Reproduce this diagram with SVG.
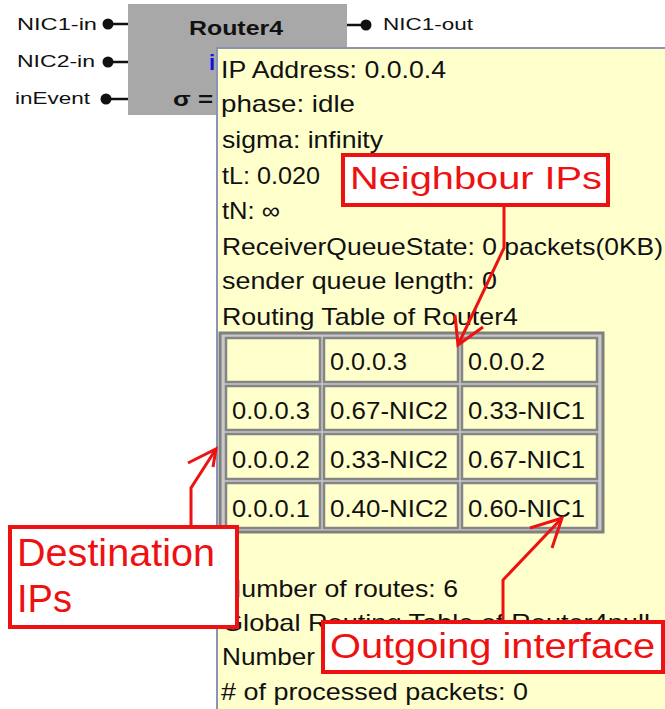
<svg xmlns="http://www.w3.org/2000/svg" width="665" height="709" viewBox="0 0 665 709">
<style>
.port{font-family:"Liberation Sans",Arial,sans-serif;font-size:16px;fill:#111}
.pt{font-family:"Liberation Sans",Arial,sans-serif;font-size:24px;fill:#111}
.cell{fill:#FFFFCC;stroke:#858585;stroke-width:2.5}
.call{fill:#fff;stroke:#EE1111;stroke-width:4}
.ct{font-family:"Liberation Sans",Arial,sans-serif;fill:#EE1111}
.arr{fill:none;stroke:#EE1111;stroke-width:3;stroke-linejoin:miter}
.wire{stroke:#111;stroke-width:2.5}
</style>
<rect x="0" y="0" width="665" height="709" fill="#fff"/>
<g id="router4">
<rect x="128" y="4" width="219" height="111" fill="#A8A8A8"/>
<text x="189" y="35" font-family="Liberation Sans,Arial,sans-serif" font-size="21" font-weight="bold" fill="#111" textLength="94" lengthAdjust="spacingAndGlyphs">Router4</text>
<text x="209" y="70" font-family="Liberation Sans,Arial,sans-serif" font-size="22" font-weight="bold" fill="#1010E0">i</text>
<text x="173" y="106" font-family="Liberation Sans,Arial,sans-serif" font-size="21" font-weight="bold" fill="#111" textLength="40" lengthAdjust="spacingAndGlyphs">σ =</text>
</g>
<g id="ports">
<g id="port-nic1-in"><text class="port" x="17" y="30" textLength="80" lengthAdjust="spacingAndGlyphs">NIC1-in</text><line class="wire" x1="108" y1="24" x2="128" y2="24"/><circle cx="108" cy="24" r="5.5" fill="#111"/></g>
<g id="port-nic2-in"><text class="port" x="17" y="67" textLength="78" lengthAdjust="spacingAndGlyphs">NIC2-in</text><line class="wire" x1="108" y1="62" x2="128" y2="62"/><circle cx="108" cy="62" r="5.5" fill="#111"/></g>
<g id="port-inevent"><text class="port" x="15" y="104" textLength="75" lengthAdjust="spacingAndGlyphs">inEvent</text><line class="wire" x1="106" y1="99" x2="128" y2="99"/><circle cx="106" cy="99" r="5.5" fill="#111"/></g>
<g id="port-nic1-out"><line class="wire" x1="347" y1="25" x2="366" y2="25"/><circle cx="366" cy="25" r="5.5" fill="#111"/><text class="port" x="383" y="30" textLength="90" lengthAdjust="spacingAndGlyphs">NIC1-out</text></g>
</g>
<g id="tooltip">
<rect x="217" y="48" width="450" height="665" fill="#FFFFCC" stroke="#8C93B8" stroke-width="2"/>
<text class="pt" x="221" y="78" textLength="225" lengthAdjust="spacingAndGlyphs">IP Address: 0.0.0.4</text>
<text class="pt" x="221" y="112" textLength="134" lengthAdjust="spacingAndGlyphs">phase: idle</text>
<text class="pt" x="222" y="148" textLength="161" lengthAdjust="spacingAndGlyphs">sigma: infinity</text>
<text class="pt" x="222" y="184" textLength="98" lengthAdjust="spacingAndGlyphs">tL: 0.020</text>
<text class="pt" x="222" y="219" textLength="58" lengthAdjust="spacingAndGlyphs">tN: ∞</text>
<text class="pt" x="222" y="255" textLength="441" lengthAdjust="spacingAndGlyphs">ReceiverQueueState: 0 packets(0KB)</text>
<text class="pt" x="222" y="289" textLength="275" lengthAdjust="spacingAndGlyphs">sender queue length: 0</text>
<text class="pt" x="222" y="325" textLength="296" lengthAdjust="spacingAndGlyphs">Routing Table of Router4</text>
<text class="pt" x="222" y="597" textLength="236" lengthAdjust="spacingAndGlyphs">Number of routes: 6</text>
<text class="pt" x="222" y="631" textLength="428" lengthAdjust="spacingAndGlyphs">Global Routing Table of Router4null</text>
<text class="pt" x="222" y="665" textLength="93" lengthAdjust="spacingAndGlyphs">Number</text>
<text class="pt" x="221" y="700" textLength="307" lengthAdjust="spacingAndGlyphs"># of processed packets: 0</text>
</g>
<g id="routing-table">
<rect x="220" y="333" width="383" height="199" fill="#C8C8C8" stroke="#7F7F7F" stroke-width="3"/>
<rect class="cell" x="226" y="338" width="94" height="44"/>
<rect class="cell" x="324" y="338" width="134" height="44"/>
<rect class="cell" x="462" y="338" width="135" height="44"/>
<rect class="cell" x="226" y="386" width="94" height="44"/>
<rect class="cell" x="324" y="386" width="134" height="44"/>
<rect class="cell" x="462" y="386" width="135" height="44"/>
<rect class="cell" x="226" y="434" width="94" height="45"/>
<rect class="cell" x="324" y="434" width="134" height="45"/>
<rect class="cell" x="462" y="434" width="135" height="45"/>
<rect class="cell" x="226" y="483" width="94" height="45"/>
<rect class="cell" x="324" y="483" width="134" height="45"/>
<rect class="cell" x="462" y="483" width="135" height="45"/>
<text class="pt" x="330" y="370" textLength="77" lengthAdjust="spacingAndGlyphs">0.0.0.3</text>
<text class="pt" x="468" y="370" textLength="77" lengthAdjust="spacingAndGlyphs">0.0.0.2</text>
<text class="pt" x="232" y="419" textLength="78" lengthAdjust="spacingAndGlyphs">0.0.0.3</text>
<text class="pt" x="330" y="419" textLength="118" lengthAdjust="spacingAndGlyphs">0.67-NIC2</text>
<text class="pt" x="468" y="419" textLength="117" lengthAdjust="spacingAndGlyphs">0.33-NIC1</text>
<text class="pt" x="232" y="468" textLength="78" lengthAdjust="spacingAndGlyphs">0.0.0.2</text>
<text class="pt" x="330" y="468" textLength="118" lengthAdjust="spacingAndGlyphs">0.33-NIC2</text>
<text class="pt" x="468" y="468" textLength="117" lengthAdjust="spacingAndGlyphs">0.67-NIC1</text>
<text class="pt" x="232" y="517" textLength="78" lengthAdjust="spacingAndGlyphs">0.0.0.1</text>
<text class="pt" x="330" y="517" textLength="118" lengthAdjust="spacingAndGlyphs">0.40-NIC2</text>
<text class="pt" x="468" y="517" textLength="117" lengthAdjust="spacingAndGlyphs">0.60-NIC1</text>
</g>
<g id="callout-neighbour">
<rect class="call" x="343" y="155" width="265" height="50"/>
<text class="ct" x="350" y="189" font-size="32" textLength="252" lengthAdjust="spacingAndGlyphs">Neighbour IPs</text>
</g>
<g id="callout-destination">
<rect class="call" x="10" y="527" width="227" height="100"/>
<text class="ct" x="17" y="566" font-size="39" textLength="198" lengthAdjust="spacingAndGlyphs">Destination</text>
<text class="ct" x="17" y="612" font-size="39" textLength="55" lengthAdjust="spacingAndGlyphs">IPs</text>
</g>
<g id="callout-outgoing">
<rect class="call" x="323" y="622" width="340" height="50"/>
<text class="ct" x="330" y="658" font-size="35" textLength="325" lengthAdjust="spacingAndGlyphs">Outgoing interface</text>
</g>
<g id="connectors">
<path class="arr" d="M504 205 L504 248 L458 345"/>
<path class="arr" d="M455 315 L458 345 L483 327"/>
<path class="arr" d="M191 527 L191 488 L216 449"/>
<path class="arr" d="M188 463 L216 449 L213 467"/>
<path class="arr" d="M503 622 L503 580 L562 518"/>
<path class="arr" d="M530 528 L562 518 L552 548"/>
</g>
</svg>
